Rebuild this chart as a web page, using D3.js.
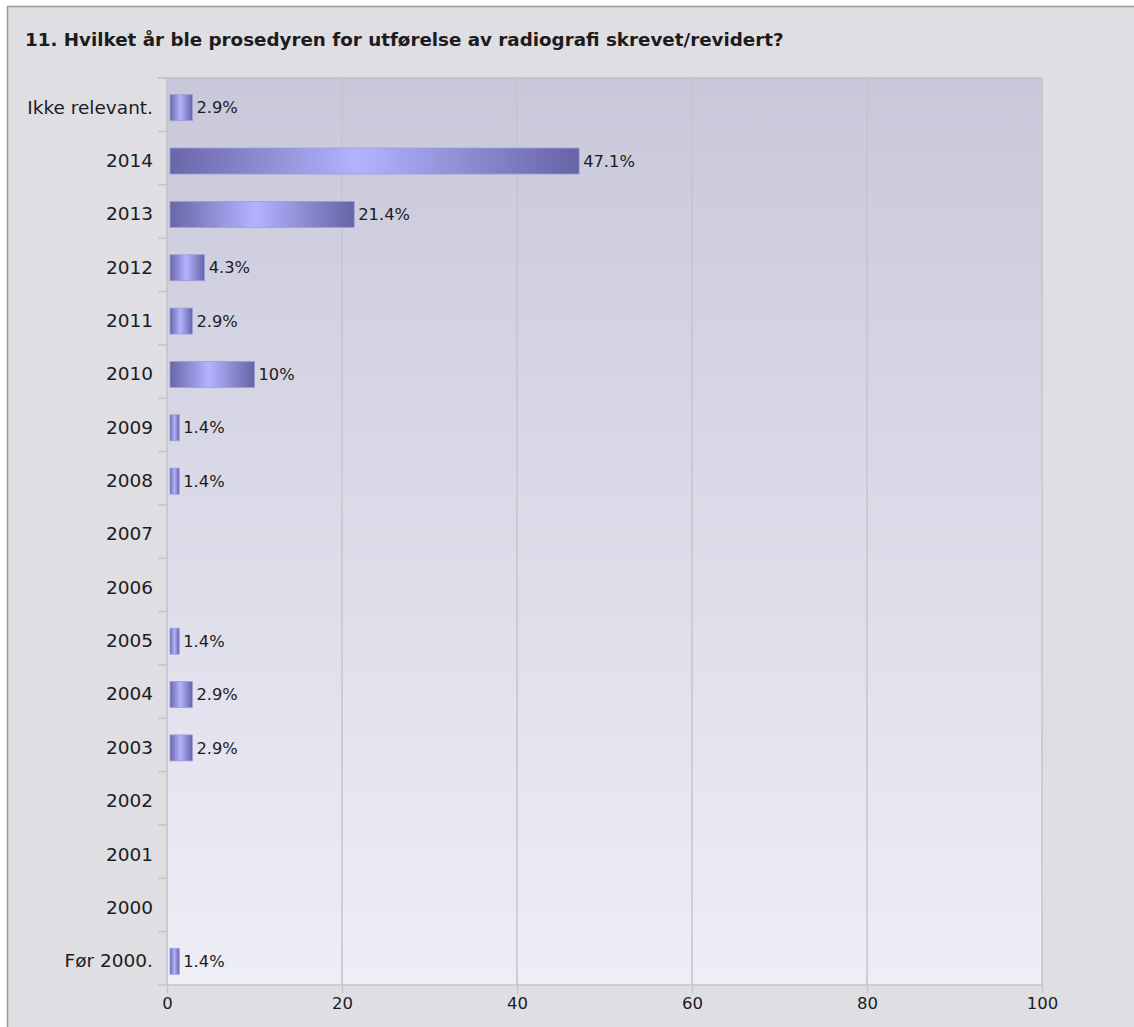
<!DOCTYPE html>
<html>
<head>
<meta charset="utf-8">
<script src="https://cdn.jsdelivr.net/npm/d3@7"></script>
<style>
  body { margin: 0; background: #ffffff; }
  text { font-family: "DejaVu Sans", Verdana, sans-serif; fill: #1c1c1c; }
</style>
</head>
<body>
<script>
// answers and share (%)
var categories = ["Ikke relevant.", "2014", "2013", "2012", "2011", "2010", "2009", "2008",
                  "2007", "2006", "2005", "2004", "2003", "2002", "2001", "2000", "Før 2000."]
var percents = [2.9, 47.1, 21.4, 4.3, 2.9, 10, 1.4, 1.4, 0, 0, 1.4, 2.9, 2.9, 0, 0, 0, 1.4]
var xTicks = [0, 20, 40, 60, 80, 100]
var title = "11. Hvilket år ble prosedyren for utførelse av radiografi skrevet/revidert?"

var width = 1134
var height = 1027
var plot = { left: 167, right: 1042, top: 78, bottom: 985 }

var svg = d3.select("body").append("svg")
    .attr("width", width)
    .attr("height", height)

var defs = svg.append("defs")
var bg = defs.append("linearGradient").attr("id", "plotbg")
    .attr("x1", 0).attr("y1", 0).attr("x2", 0).attr("y2", 1)
bg.append("stop").attr("offset", 0).attr("stop-color", "#c9c8da")
bg.append("stop").attr("offset", 1).attr("stop-color", "#eeeef7")

var barGrad = defs.append("linearGradient").attr("id", "bargrad")
    .attr("x1", 0).attr("y1", 0).attr("x2", 1).attr("y2", 0)
barGrad.append("stop").attr("offset", 0).attr("stop-color", "#6966a8")
barGrad.append("stop").attr("offset", 0.46).attr("stop-color", "#b3b3ff")
barGrad.append("stop").attr("offset", 1).attr("stop-color", "#6663a6")

// outer frame
svg.append("rect")
    .attr("x", 7).attr("y", 6)
    .attr("width", width).attr("height", height)
    .attr("fill", "#dfdee3")
svg.append("line").attr("x1", 7).attr("x2", width).attr("y1", 6.5).attr("y2", 6.5)
    .attr("stroke", "#9a9a9a").attr("stroke-width", 1.5)
svg.append("line").attr("x1", 7.5).attr("x2", 7.5).attr("y1", 6).attr("y2", height)
    .attr("stroke", "#9a9a9a").attr("stroke-width", 1.5)

svg.append("text")
    .attr("x", 25).attr("y", 46)
    .attr("font-size", 18.3)
    .attr("font-weight", "bold")
    .text(title)

var x = d3.scaleLinear().domain([0, 100]).range([plot.left, plot.right])
var y = d3.scaleBand().domain(categories).range([plot.top, plot.bottom])

svg.append("rect")
    .attr("x", plot.left).attr("y", plot.top)
    .attr("width", plot.right - plot.left).attr("height", plot.bottom - plot.top)
    .attr("fill", "url(#plotbg)")

// vertical grid
svg.append("g").selectAll("line")
    .data(xTicks.slice(1))
    .join("line")
    .attr("x1", d => x(d)).attr("x2", d => x(d))
    .attr("y1", plot.top).attr("y2", plot.bottom)
    .attr("stroke", "#c4c4c9").attr("stroke-width", 1.5)

// top and bottom borders
svg.append("line").attr("x1", plot.left - 9).attr("x2", plot.right)
    .attr("y1", plot.top).attr("y2", plot.top)
    .attr("stroke", "#c2c2c8").attr("stroke-width", 1.5)
svg.append("line").attr("x1", plot.left - 9).attr("x2", plot.right)
    .attr("y1", plot.bottom).attr("y2", plot.bottom)
    .attr("stroke", "#c4c4c9").attr("stroke-width", 1.5)

// y axis: labels, ticks between the bands
var yAxis = svg.append("g")
    .attr("transform", `translate(${plot.left},3)`)
    .call(d3.axisLeft(y).tickSize(0).tickPadding(14))
yAxis.select(".domain").remove()
yAxis.selectAll("text").attr("font-size", 18.5).attr("font-family", null).attr("fill", "#1c1c1c")

svg.append("line").attr("x1", plot.left).attr("x2", plot.left)
    .attr("y1", plot.top).attr("y2", plot.bottom)
    .attr("stroke", "#c2c2c8").attr("stroke-width", 1.5)

svg.append("g").selectAll("line")
    .data(categories)
    .join("line")
    .attr("x1", plot.left - 9).attr("x2", plot.left)
    .attr("y1", d => y(d)).attr("y2", d => y(d))
    .attr("stroke", "#c4c4c9").attr("stroke-width", 1.5)

// x axis
var xAxis = svg.append("g")
    .attr("transform", `translate(0,${plot.bottom})`)
    .call(d3.axisBottom(x).tickValues(xTicks).tickSize(8).tickPadding(4))
xAxis.select(".domain").remove()
xAxis.selectAll("line").attr("stroke", "#c4c4c9").attr("stroke-width", 1.5)
xAxis.selectAll("text").attr("font-size", 16.5).attr("font-family", null).attr("fill", "#1c1c1c")

// bars
var rows = categories.map((c, i) => ({ cat: c, val: percents[i] })).filter(d => d.val > 0)
var barH = 26

svg.append("g").selectAll("rect")
    .data(rows)
    .join("rect")
    .attr("x", x(0) + 3)
    .attr("y", d => y(d.cat) + y.bandwidth() / 2 - barH / 2 + 3)
    .attr("width", d => x(d.val) - x(0) - 3)
    .attr("height", barH)
    .attr("fill", "url(#bargrad)")
    .attr("stroke", "#9d9dd6").attr("stroke-width", 0.8)

svg.append("g").selectAll("text")
    .data(rows)
    .join("text")
    .attr("x", d => x(d.val) + 4)
    .attr("y", d => y(d.cat) + y.bandwidth() / 2 + 3)
    .attr("dy", "0.35em")
    .attr("font-size", 16.3)
    .text(d => d.val + "%")
</script>
</body>
</html>
